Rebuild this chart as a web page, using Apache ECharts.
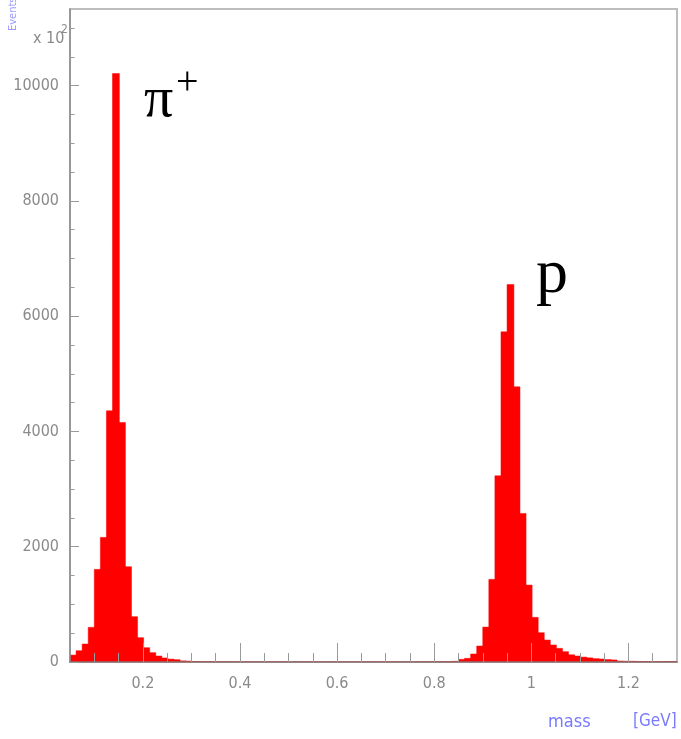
<!DOCTYPE html>
<html>
<head>
<meta charset="utf-8">
<script src="https://cdn.jsdelivr.net/npm/echarts@6/dist/echarts.min.js"></script>
<style>
  html, body { margin: 0; padding: 0; background: #ffffff; }
  #chart { width: 681px; height: 739px; }
</style>
</head>
<body>
<div id="chart"></div>
<script>
// Mass histogram: 100 equal bins between massRange[0] and massRange[1] (GeV)
const massRange = [0.05, 1.3];
const binCount = 100;

// Entries per bin (axis units, x 10^2)
const counts = [
  // 0.05 - 0.35 : pion peak
  120, 196, 312, 601, 1607, 2162, 4358, 10210, 4156, 1653,
  786, 422, 248, 162, 104, 70, 50, 40, 20, 15,
  8, 5, 3, 2,
  // 0.35 - 0.80 : flat region
  2, 2, 1, 1, 1, 1, 0, 1, 0, 0,
  1, 0, 0, 0, 1, 0, 0, 0, 0, 1,
  0, 0, 0, 0, 0, 1, 0, 0, 0, 1,
  0, 1, 1, 1, 2, 2,
  // 0.80 - 1.30 : proton peak and tail
  3, 5, 8, 12, 46, 64, 139, 277, 606, 1434,
  3231, 5728, 6549, 4774, 2578, 1335, 775, 508, 381, 295,
  237, 179, 125, 104, 85, 72, 58, 52, 42, 36,
  16, 14, 12, 10, 8, 6, 5, 5, 8, 8
];

// Axis ticks and labels
const xMajorTicks = [0.2, 0.4, 0.6, 0.8, 1, 1.2];
const xMinorTicks = [0.1, 0.15, 0.25, 0.3, 0.35, 0.45, 0.5, 0.55, 0.65, 0.7, 0.75,
                     0.85, 0.9, 0.95, 1.05, 1.1, 1.15, 1.25];
const yMajorTicks = [0, 2000, 4000, 6000, 8000, 10000];
const yMinorTicks = [500, 1000, 1500, 2500, 3000, 3500, 4500, 5000, 5500, 6500, 7000, 7500,
                     8500, 9000, 9500, 10500, 11000];
const yMax = 11330;

const binWidth = (massRange[1] - massRange[0]) / binCount;
const histData = counts.map((c, i) => [
  massRange[0] + i * binWidth,
  massRange[0] + (i + 1) * binWidth,
  c
]);

const narrowFont = '"Liberation Sans Narrow", "DejaVu Sans Condensed", "Liberation Sans", sans-serif';
const serifFont = '"Liberation Serif", "DejaVu Serif", serif';
const labelGrey = '#8a8a8a';
const tickGrey = '#9a9a9a';

const chart = echarts.init(document.getElementById('chart'), null, { renderer: 'canvas' });

const option = {
  animation: false,
  backgroundColor: '#ffffff',
  grid: {
    left: 70, right: 4, top: 9, bottom: 77,
    show: true,
    borderColor: '#bdbdbd',
    borderWidth: 2,
    backgroundColor: 'transparent'
  },
  xAxis: [
    {
      type: 'value', min: massRange[0], max: massRange[1], z: 5,
      axisLine: { show: true, onZero: false, lineStyle: { color: '#8a7070', width: 1.5 } },
      axisTick: { show: true, inside: true, length: 19, customValues: xMajorTicks,
                  lineStyle: { color: tickGrey } },
      axisLabel: { customValues: xMajorTicks, margin: 14, color: labelGrey,
                   fontFamily: narrowFont, fontSize: 16,
                   formatter: v => String(v) },
      splitLine: { show: false }
    },
    {
      type: 'value', min: massRange[0], max: massRange[1], position: 'bottom', z: 5,
      axisLine: { show: false, onZero: false },
      axisTick: { show: true, inside: true, length: 9, customValues: xMinorTicks,
                  lineStyle: { color: tickGrey } },
      axisLabel: { show: false },
      splitLine: { show: false }
    }
  ],
  yAxis: [
    {
      type: 'value', min: 0, max: yMax, z: 5,
      axisLine: { show: true, onZero: false, lineStyle: { color: '#8c8c8c', width: 1.5 } },
      axisTick: { show: true, inside: true, length: 9, customValues: yMajorTicks,
                  lineStyle: { color: tickGrey } },
      axisLabel: { customValues: yMajorTicks, margin: 11, color: labelGrey,
                   fontFamily: narrowFont, fontSize: 16,
                   formatter: v => String(v) },
      splitLine: { show: false }
    },
    {
      type: 'value', min: 0, max: yMax, position: 'left', z: 5,
      axisLine: { show: false, onZero: false },
      axisTick: { show: true, inside: true, length: 4.5, customValues: yMinorTicks,
                  lineStyle: { color: tickGrey } },
      axisLabel: { show: false },
      splitLine: { show: false }
    }
  ],
  series: [
    {
      type: 'custom',
      name: 'mass',
      xAxisIndex: 0,
      yAxisIndex: 0,
      clip: true,
      data: histData,
      encode: { x: [0, 1], y: 2 },
      renderItem: function (params, api) {
        const topLeft = api.coord([api.value(0), api.value(2)]);
        const bottomRight = api.coord([api.value(1), 0]);
        return {
          type: 'rect',
          shape: {
            x: topLeft[0],
            y: topLeft[1],
            width: bottomRight[0] - topLeft[0] + 0.8,
            height: bottomRight[1] - topLeft[1]
          },
          style: { fill: '#ff0000', stroke: '#ff0000', lineWidth: 0.5 }
        };
      }
    }
  ],
  graphic: [
    // axis multiplier
    { type: 'text', left: 33, top: 31,
      style: { text: 'x 10', font: '16px ' + narrowFont, fill: labelGrey } },
    { type: 'text', left: 61, top: 24,
      style: { text: '2', font: '12px ' + narrowFont, fill: labelGrey } },
    // y axis title (runs off the top edge)
    { type: 'text', x: 19, y: 31, rotation: Math.PI / 2,
      style: { text: 'Events', font: '11px ' + narrowFont, fill: '#8080ff',
               opacity: 0.8, textAlign: 'left', textVerticalAlign: 'bottom' } },
    // peak labels
    { type: 'text', left: 144, top: 72,
      style: { text: 'π', font: '58px ' + serifFont, fill: '#000000' } },
    { type: 'text', left: 176, top: 63,
      style: { text: '+', font: '40px ' + serifFont, fill: '#000000' } },
    { type: 'text', left: 536, top: 243,
      style: { text: 'p', font: '64px ' + serifFont, fill: '#000000' } },
    // x axis title
    { type: 'text', left: 548, top: 713,
      style: { text: 'mass', font: '18px ' + narrowFont, fill: '#7a7aff' } },
    { type: 'text', left: 633, top: 713,
      style: { text: '[GeV]', font: '17px ' + narrowFont, fill: '#7a7aff' } }
  ]
};

chart.setOption(option);
</script>
</body>
</html>
